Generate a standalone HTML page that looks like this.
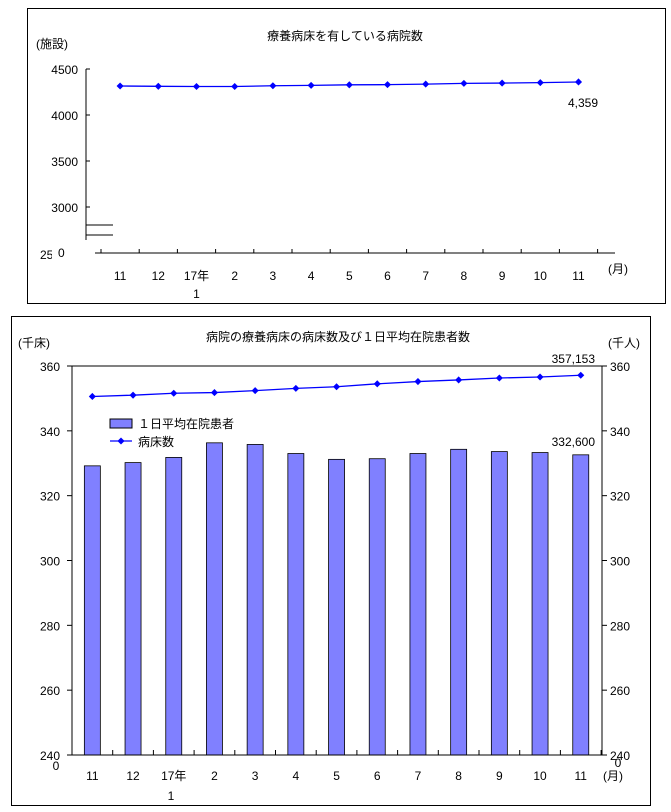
<!DOCTYPE html>
<html><head><meta charset="utf-8"><style>
body{margin:0;background:#fff;width:671px;height:812px;overflow:hidden}
svg{position:absolute;left:0;top:0}
text{font-family:"Liberation Sans","Noto Sans CJK JP",sans-serif;font-size:12px;fill:#000}
</style></head><body>
<svg id="c" width="671" height="812"></svg>
<script>
const cats=["11","12","17年","2","3","4","5","6","7","8","9","10","11"];
const hospitals=[4315,4312,4310,4310,4318,4322,4328,4330,4336,4344,4347,4352,4359];
const patients=[329.2,330.2,331.8,336.3,335.8,333.0,331.2,331.4,333.0,334.3,333.6,333.3,332.6];
const beds=[350.6,351.0,351.6,351.8,352.4,353.1,353.6,354.5,355.2,355.7,356.3,356.6,357.153];
const topTicks=[3000,3500,4000,4500];
const botTicks=[260,280,300,320,340,360];
const svg=document.getElementById('c');const NS='http://www.w3.org/2000/svg';
function el(t,a,name,txt){const e=document.createElementNS(NS,t);for(const k in a)e.setAttribute(k,a[k]);


if(txt!==undefined)e.textContent=txt;svg.appendChild(e);return e;}
// top chart
el('rect',{x:27.5,y:8.5,width:638,height:295,fill:'#fff',stroke:'#000'},'top-chart-frame');
el('text',{x:345,y:40,'text-anchor':'middle','font-size':14},'top-chart-title','療養病床を有している病院数');
el('text',{x:36,y:48},'top-y-axis-unit','(施設)');
const ty=v=>69+(4500-v)*46/500;
const tx=i=>101+38.2*(i+0.5);
el('line',{x1:86,y1:69,x2:86,y2:240,stroke:'#000'},'top-y-axis');
topTicks.forEach(v=>{el('line',{x1:86,y1:ty(v),x2:90,y2:ty(v),stroke:'#000'},'top-y-tick');
el('text',{x:78,y:ty(v)+5,'text-anchor':'end'},'top-y-tick-label',v);});
el('line',{x1:86,y1:225,x2:113,y2:225,stroke:'#000'},'axis-break');
el('line',{x1:86,y1:235,x2:113,y2:235,stroke:'#000'},'axis-break');
el('text',{x:40,y:259},'top-y-tick-label','2500');
el('rect',{x:52,y:247,width:18,height:14,fill:'#fff'},'label-mask');
el('text',{x:58,y:257},'top-zero-label','0');
el('line',{x1:95,y1:253,x2:615,y2:253,stroke:'#000'},'top-x-axis');
for(let i=0;i<=13;i++)el('line',{x1:101+38.2*i,y1:253,x2:101+38.2*i,y2:249,stroke:'#000'},'top-x-tick');
cats.forEach((c,i)=>el('text',{x:tx(i),y:280,'text-anchor':'middle'},'top-x-label',c));
el('text',{x:tx(2),y:298,'text-anchor':'middle'},'top-x-label','1');
el('text',{x:608,y:273},'top-x-unit','(月)');
el('polyline',{points:hospitals.map((v,i)=>tx(i)+','+ty(v)).join(' '),fill:'none',stroke:'#0000ff','stroke-width':1.3},'hospitals-line');
hospitals.forEach((v,i)=>el('rect',{x:tx(i)-2.5,y:ty(v)-2.5,width:5,height:5,fill:'#0000ff',transform:`rotate(45 ${tx(i)} ${ty(v)})`},'hospitals-point'));
el('text',{x:598,y:107,'text-anchor':'end'},'hospitals-end-label','4,359');
// bottom chart
el('rect',{x:11.5,y:316.5,width:639,height:489,fill:'#fff',stroke:'#000'},'bottom-chart-frame');
el('text',{x:338,y:341,'text-anchor':'middle','font-size':14},'bottom-chart-title','病院の療養病床の病床数及び１日平均在院患者数');
el('text',{x:18,y:347},'left-y-unit','(千床)');
el('text',{x:608,y:347},'right-y-unit','(千人)');
const by=v=>366+(360-v)*389/120;
const bx=i=>72+40.7*(i+0.5);
patients.forEach((v,i)=>el('rect',{x:bx(i)-8,y:by(v),width:16,height:755-by(v),fill:'#8080ff',stroke:'#000','stroke-width':0.8},'bar-patients'));
el('rect',{x:72,y:366,width:530,height:389,fill:'none',stroke:'#000'},'bottom-plot-area');
botTicks.concat([240]).forEach(v=>{el('line',{x1:72,y1:by(v),x2:67,y2:by(v),stroke:'#000'},'left-y-tick');
el('line',{x1:602,y1:by(v),x2:607,y2:by(v),stroke:'#000'},'right-y-tick');
el('text',{x:60,y:by(v)+5,'text-anchor':'end'},'left-y-tick-label',v);
el('text',{x:610,y:by(v)+5},'right-y-tick-label',v);});
el('text',{x:56,y:770,'text-anchor':'middle'},'left-zero','0');
el('text',{x:618,y:767,'text-anchor':'middle'},'right-zero','0');
for(let i=0;i<=13;i++)el('line',{x1:72+40.7*i,y1:755,x2:72+40.7*i,y2:750,stroke:'#000'},'bottom-x-tick');
cats.forEach((c,i)=>el('text',{x:bx(i),y:780,'text-anchor':'middle'},'bottom-x-label',c));
el('text',{x:171,y:800,'text-anchor':'middle'},'bottom-x-label','1');
el('text',{x:603,y:780},'bottom-x-unit','(月)');
el('polyline',{points:beds.map((v,i)=>bx(i)+','+by(v)).join(' '),fill:'none',stroke:'#0000ff','stroke-width':1.3},'beds-line');
beds.forEach((v,i)=>el('rect',{x:bx(i)-2.5,y:by(v)-2.5,width:5,height:5,fill:'#0000ff',transform:`rotate(45 ${bx(i)} ${by(v)})`},'beds-point'));
el('text',{x:595,y:363,'text-anchor':'end'},'beds-end-label','357,153');
el('text',{x:595,y:446,'text-anchor':'end'},'patients-end-label','332,600');
el('rect',{x:110,y:419,width:22,height:9,fill:'#8080ff',stroke:'#000'},'legend-patients-swatch');
el('text',{x:138,y:428},'legend-patients-label','１日平均在院患者');
el('line',{x1:110,y1:441,x2:132,y2:441,stroke:'#0000ff','stroke-width':1.3},'legend-beds-line');
el('rect',{x:118.5,y:438.5,width:5,height:5,fill:'#0000ff',transform:'rotate(45 121 441)'},'legend-beds-marker');
el('text',{x:138,y:446},'legend-beds-label','病床数');
</script></body></html>
